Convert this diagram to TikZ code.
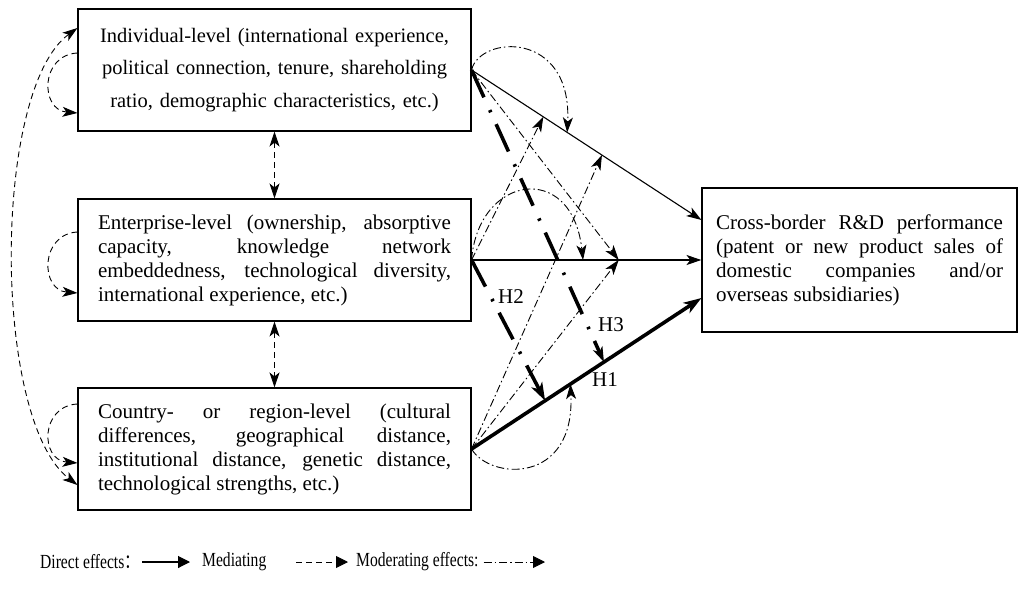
\documentclass[tikz,border=0pt]{standalone}
\usepackage{fontspec}
\setmainfont{Liberation Serif}
\newfontfamily\cjk{Noto Sans CJK SC}
\usetikzlibrary{arrows.meta}
\newcommand{\fullline}[1]{\makebox[\hsize][s]{#1}\\}
\newcommand{\narrow}[1]{\scalebox{0.78}[1]{#1}}
\tikzset{
  box/.style={draw, line width=1.1pt, inner xsep=20pt, inner ysep=0pt, text width=353pt, minimum height=122pt, align=justify, font=\fontsize{21}{24}\selectfont},
  mediate/.style={line width=0.9pt, dash pattern=on 6pt off 4pt},
  moderate/.style={line width=0.9pt, dash pattern=on 8pt off 3pt on 1.5pt off 3pt},
  hyp/.style={line width=3.6pt, dash pattern=on 30pt off 14pt on 2.5pt off 13pt},
  bigtip/.style={-{Stealth[length=18pt,width=12pt,inset=5pt]}},
  legend/.style={inner sep=0pt, font=\fontsize{20}{24}\selectfont},
  >={Stealth[length=15pt,width=10pt,inset=4pt]}
}
\begin{document}
\begin{tikzpicture}[x=1pt,y=-1pt]
\useasboundingbox (0,0) rectangle (1019,591);
\node [box, align=center, text width=373pt, inner xsep=10pt, font=\fontsize{20.5}{32.5}\selectfont] (ind) at (274.5,70) {Individual-level (international experience,\\ political connection, tenure, shareholding\\ ratio, demographic characteristics, etc.)};
\node [box] (ent) at (274.5,260) {\fullline{Enterprise-level (ownership, absorptive}\fullline{capacity, knowledge network}\fullline{embeddedness, technological diversity,}international experience, etc.)};
\node [box] (cty) at (274.5,449) {\fullline{Country- or region-level (cultural}\fullline{differences, geographical distance,}\fullline{institutional distance, genetic distance,}technological strengths, etc.)};
\node [box, text width=287pt, inner xsep=14pt, minimum height=144pt] (cb) at (859.5,260) {\fullline{Cross-border R\&D performance}\fullline{(patent or new product sales of}\fullline{domestic companies and/or}overseas subsidiaries)};

\draw [->, line width=1.1pt] (ind.east) -- coordinate[pos=.312] (ic1) coordinate[pos=.416] (ic2) coordinate[pos=.567] (ic3) ([yshift=40pt]cb.west);
\draw [->, line width=1.1pt] (ent.east) -- coordinate[pos=.485] (ec1) coordinate[pos=.64] (ec2) (cb.west);
\draw [bigtip, line width=3.6pt] (cty.east) -- coordinate[pos=.32] (hc1) coordinate[pos=.43] (hc2) coordinate[pos=.576] (hc3) ([yshift=-38pt]cb.west);

\draw [moderate, ->] (ind.east) .. controls (480,35) and (572,30) .. (ic2);
\draw [moderate, ->] (ent.east) .. controls (478,175) and (572,160) .. (ec1);
\draw [moderate, ->] (cty.east) .. controls (490,480) and (575,485) .. (hc2);
\draw [moderate, ->] (ind.east) -- (ec2);
\draw [moderate, ->] (ent.east) -- (ic1);
\draw [moderate, ->] (cty.east) -- (ic3);
\draw [moderate, ->] (cty.east) -- (ec2);
\draw [hyp, ->] (ind.east) -- (hc3);
\draw [hyp, bigtip] (ent.east) -- (hc1);
\node [font=\fontsize{21}{24}\selectfont] (h1) at (605,380) {H1};
\node [font=\fontsize{21}{24}\selectfont] (h2) at (511,297) {H2};
\node [font=\fontsize{21}{24}\selectfont] (h3) at (611,325) {H3};

\draw [mediate, <->] (ind.south) -- (ent.north);
\draw [mediate, <->] (ent.south) -- (cty.north);
\draw [mediate, ->] ([yshift=17pt]ind.west) .. controls (40,55) and (40,110) .. ([yshift=-43pt]ind.west);
\draw [mediate, ->] ([yshift=28pt]ent.west) .. controls (40,234) and (40,290) .. ([yshift=-33pt]ent.west);
\draw [mediate, ->] ([yshift=45pt]cty.west) .. controls (40,406) and (40,460) .. ([yshift=-14pt]cty.west);
\draw [mediate, <->] ([yshift=42pt]ind.west) .. controls (-8,90) and (-8,420) .. ([yshift=-36pt]cty.west);

\node [legend, anchor=west] (lgd) at (40,562) {\narrow{Direct effects{\cjk ：}}};
\coordinate (lgdend) at (190,562);
\draw [line width=1.1pt, -{Triangle[length=12pt,width=12pt]}] ([xshift=2pt]lgd.east) -- (lgdend);
\node [legend, anchor=west] (lgm) at (202,562) {\narrow{Mediating}};
\coordinate (lgmbeg) at (296,562);
\coordinate (lgmend) at (348,562);
\draw [mediate, -{Triangle[length=12pt,width=12pt]}] (lgmbeg) -- (lgmend);
\node [legend, anchor=west] (lgo) at (356,562) {\narrow{Moderating effects:}};
\coordinate (lgoend) at (545,562);
\draw [moderate, -{Triangle[length=12pt,width=12pt]}] ([xshift=5pt]lgo.east) -- (lgoend);
\end{tikzpicture}
\end{document}
